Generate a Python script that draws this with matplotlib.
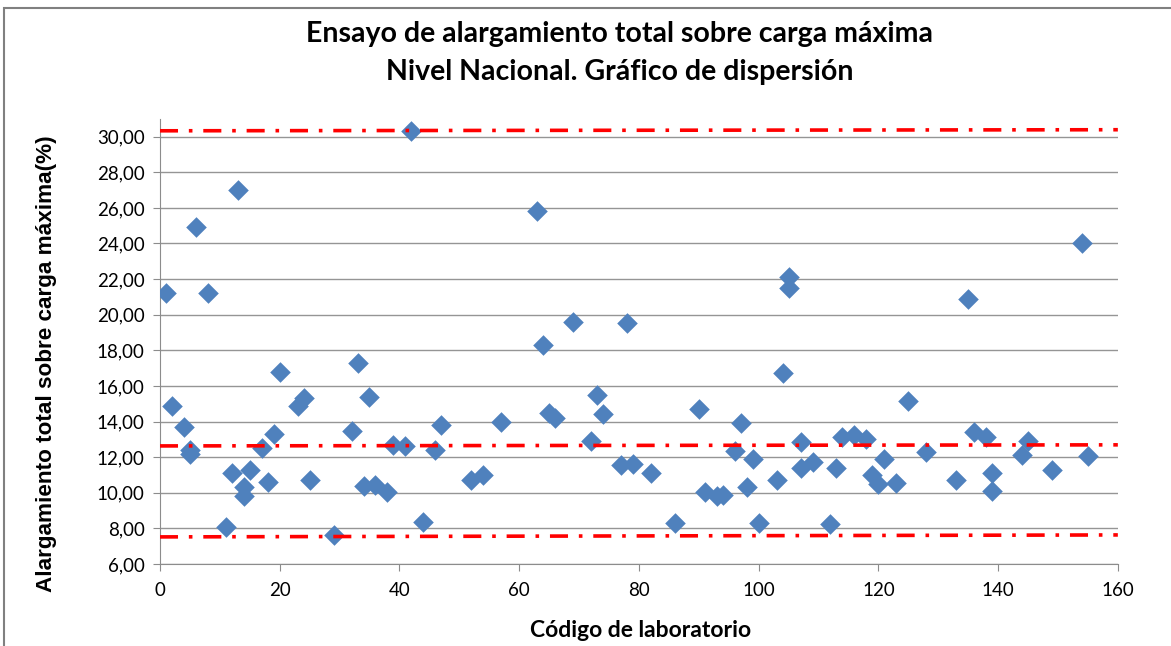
import matplotlib
matplotlib.use("Agg")
import matplotlib.pyplot as plt
from matplotlib.patches import Rectangle
from matplotlib.ticker import FuncFormatter

lab_code = [1, 2, 4, 5, 5, 6, 8, 11, 12, 13, 14, 14, 15, 17, 18, 19, 20, 23, 24, 25,
            29, 32, 33, 34, 35, 36, 38, 39, 41, 42, 44, 46, 47, 52, 54, 57, 63, 64, 65, 66,
            69, 72, 73, 74, 77, 78, 79, 82, 86, 90, 91, 93, 94, 96, 97, 98, 99, 100, 103, 104,
            105, 105, 107, 107, 109, 112, 113, 114, 116, 118, 119, 120, 121, 123, 125, 128, 133, 135, 136, 138,
            139, 139, 144, 145, 149, 154, 155]
elongation = [21.2, 14.9, 13.7, 12.4, 12.2, 24.9, 21.2, 8.05, 11.1, 27.0, 10.3, 9.8, 11.3, 12.5, 10.6, 13.3, 16.8, 14.9, 15.3, 10.7,
              7.6, 13.45, 17.3, 10.4, 15.4, 10.45, 10.05, 12.7, 12.65, 30.3, 8.35, 12.4, 13.8, 10.7, 11.0, 14.0, 25.8, 18.3, 14.5, 14.2,
              19.6, 12.9, 15.5, 14.4, 11.55, 19.55, 11.6, 11.1, 8.3, 14.7, 10.05, 9.8, 9.9, 12.35, 13.9, 10.35, 11.9, 8.3, 10.7, 16.7,
              22.1, 21.5, 12.85, 11.4, 11.7, 8.25, 11.4, 13.15, 13.25, 13.0, 11.0, 10.5, 11.9, 10.55, 15.15, 12.3, 10.7, 20.9, 13.4, 13.15,
              11.1, 10.1, 12.1, 12.9, 11.3, 24.0, 12.05]

# reference lines (upper limit, mean, lower limit), start and end values
line_x = [0, 160]
upper_line = [30.33, 30.39]
mean_line = [12.63, 12.69]
lower_line = [7.52, 7.63]

y_ticks = [6, 8, 10, 12, 14, 16, 18, 20, 22, 24, 26, 28, 30]
x_ticks = [0, 20, 40, 60, 80, 100, 120, 140, 160]

TXT = ["Lato", "DejaVu Sans"]

fig = plt.figure(figsize=(11.71, 6.46), dpi=100)
ax = fig.add_axes([0.1366, 0.127, 0.818, 0.689])

ax.set_axisbelow(True)
ax.grid(axis="y", color="#959595", linewidth=1.0)
ax.scatter(lab_code, elongation, marker="D", s=110, color="#4F81BD", zorder=3, linewidths=0)
for vals in (upper_line, mean_line, lower_line):
    ax.plot(line_x, vals, color="#FF0000", linewidth=2.6, zorder=4,
            linestyle=(0, (5, 3, 1, 3)))

ax.set_xlim(0, 160)
ax.set_ylim(6, 31)
ax.set_xticks(x_ticks)
ax.set_yticks(y_ticks)
ax.yaxis.set_major_formatter(FuncFormatter(lambda v, p: f"{v:.2f}".replace(".", ",")))
ax.tick_params(direction="out", length=5, color="#8c8c8c", labelsize=13.5, pad=6)
ax.tick_params(axis="x", pad=8)
for lbl in ax.get_xticklabels() + ax.get_yticklabels():
    lbl.set_family(TXT)
for side in ("top", "right"):
    ax.spines[side].set_visible(False)
for side in ("left", "bottom"):
    ax.spines[side].set_color("#8c8c8c")

fig.text(0.529, 0.948, "Ensayo de alargamiento total sobre carga máxima",
         ha="center", va="center", fontsize=20.5, fontweight="bold", family=TXT)
fig.text(0.529, 0.888, "Nivel Nacional. Gráfico de dispersión",
         ha="center", va="center", fontsize=20.5, fontweight="bold", family=TXT)
fig.text(0.547, 0.024, "Código de laboratorio", ha="center", va="center",
         fontsize=16.5, fontweight="bold", family=TXT)
fig.text(0.040, 0.437, "Alargamiento total sobre carga máxima(%)", ha="center", va="center",
         rotation=90, fontsize=16.2, fontweight="bold", family=["Liberation Sans", "DejaVu Sans"])

fig.patches.append(Rectangle((0.003, -0.05), 1.2, 1.037, transform=fig.transFigure,
                             fill=False, edgecolor="#808080", linewidth=1.5))

fig.savefig("out.png", dpi=100)
